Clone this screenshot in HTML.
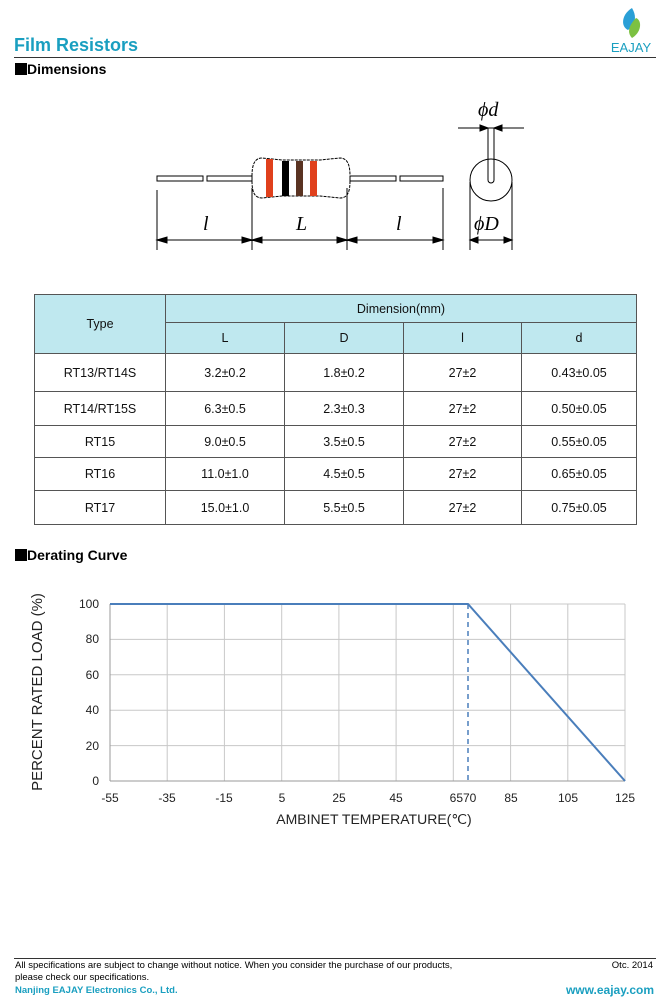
<!DOCTYPE html>
<html><head><meta charset="utf-8"><style>
body{margin:0;background:#fff;font-family:"Liberation Sans",Arial,sans-serif;}
.pg{position:relative;width:670px;height:1000px;overflow:hidden;}
.abs{position:absolute;}
table{border-collapse:collapse;position:absolute;left:34px;top:294px;width:603px;font-size:12.5px;color:#111;}
td{border:1px solid #555;text-align:center;padding:0;}
.h{background:#bfe8ef;}
</style></head><body><div class="pg">
<div class="abs" style="left:14px;top:35px;font-size:18px;font-weight:bold;color:#1a9fc0;">Film Resistors</div>
<div class="abs" style="left:14px;top:57px;width:642px;height:1px;background:#333;"></div>
<svg class="abs" style="left:608px;top:4px" width="50" height="52">
<path d="M24 4 C14 10 12 22 20 26 C26 22 30 14 24 4Z" fill="#2a9fd6"/>
<path d="M24 34 C34 28 34 16 28 14 C22 20 18 28 24 34Z" fill="#7cc142"/>
<text x="23" y="48" font-size="13" fill="#1a9fc0" text-anchor="middle" font-family="Liberation Sans">EAJAY</text>
</svg>
<div class="abs" style="left:15px;top:61px;font-size:14px;font-weight:bold;"><span style="display:inline-block;width:12px;height:12px;background:#000;vertical-align:-1px"></span>Dimensions</div>

<svg class="abs" style="left:0;top:90px" width="670" height="170" fill="none" stroke="#000" stroke-width="1">
<rect x="157" y="86" width="46" height="5"/><rect x="207" y="86" width="45" height="5"/>
<rect x="350" y="86" width="46" height="5"/><rect x="400" y="86" width="43" height="5"/>
<path d="M252 86 C252 76 254 68 262 68 L282 70 L320 70 L340 68 C348 68 350 76 350 86 M252 91 C252 101 254 108 262 108 L282 106 L320 106 L340 108 C348 108 350 101 350 91" stroke-dasharray="3,1"/>
<rect x="266" y="69" width="7" height="38" fill="#e0401c" stroke="none"/>
<rect x="282" y="71" width="7" height="35" fill="#000" stroke="none"/>
<rect x="296" y="71" width="7" height="35" fill="#5a3322" stroke="none"/>
<rect x="310" y="71" width="7" height="35" fill="#e0401c" stroke="none"/>
<path d="M157 100V160M252 98V160M347 98V160M443 98V160"/>
<path d="M157 150H443"/>
<path d="M157 150l10 -3v6zM252 150l-10 -3v6zM252 150l10 -3v6zM347 150l-10 -3v6zM347 150l10 -3v6zM443 150l-10 -3v6z" fill="#000"/>
<text x="203" y="140" font-size="20" font-style="italic" fill="#000" stroke="none" font-family="Liberation Serif">l</text>
<text x="296" y="140" font-size="20" font-style="italic" fill="#000" stroke="none" font-family="Liberation Serif">L</text>
<text x="396" y="140" font-size="20" font-style="italic" fill="#000" stroke="none" font-family="Liberation Serif">l</text>
<circle cx="491" cy="90" r="21"/>
<path d="M488 38V90a3 3 0 0 0 6 0V38"/>
<path d="M458 38H524M470 38l18 0M488 38l-8-3v6zM494 38l8-3v6z" fill="#000"/>
<path d="M470 92V160M512 92V160M470 150H512M470 150l8-3v6zM512 150l-8-3v6z" fill="#000"/>
<text x="478" y="26" font-size="20" font-style="italic" fill="#000" stroke="none" font-family="Liberation Serif">ϕd</text>
<text x="474" y="140" font-size="20" font-style="italic" fill="#000" stroke="none" font-family="Liberation Serif">ϕD</text>
</svg>

<table>
<tr style="height:28px"><td class="h" rowspan="2" style="width:130px">Type</td><td class="h" colspan="4">Dimension(mm)</td></tr>
<tr style="height:31px" class="h"><td class="h" style="width:118px">L</td><td class="h" style="width:118px">D</td><td class="h" style="width:117px">l</td><td class="h">d</td></tr>
<tr style="height:38px"><td>RT13/RT14S</td><td>3.2±0.2</td><td>1.8±0.2</td><td>27±2</td><td>0.43±0.05</td></tr>
<tr style="height:34px"><td>RT14/RT15S</td><td>6.3±0.5</td><td>2.3±0.3</td><td>27±2</td><td>0.50±0.05</td></tr>
<tr style="height:32px"><td>RT15</td><td>9.0±0.5</td><td>3.5±0.5</td><td>27±2</td><td>0.55±0.05</td></tr>
<tr style="height:33px"><td>RT16</td><td>11.0±1.0</td><td>4.5±0.5</td><td>27±2</td><td>0.65±0.05</td></tr>
<tr style="height:34px"><td>RT17</td><td>15.0±1.0</td><td>5.5±0.5</td><td>27±2</td><td>0.75±0.05</td></tr>
</table>

<div class="abs" style="left:15px;top:547px;font-size:14px;font-weight:bold;"><span style="display:inline-block;width:12px;height:12px;background:#000;vertical-align:-1px"></span>Derating Curve</div>

<svg class="abs" style="left:0;top:580px" width="670" height="260" font-family="Liberation Sans" font-size="12" fill="#222">
<g stroke="#c8c8c8" stroke-width="1">
<path d="M110 24H625M110 59.4H625M110 94.8H625M110 130.2H625M110 165.6H625"/>
<path d="M167.2 24V201M224.4 24V201M281.7 24V201M338.9 24V201M396.1 24V201M453.3 24V201M510.6 24V201M567.8 24V201M625 24V201"/>
</g>
<path d="M110 201H625M110 24V201" stroke="#999"/>
<path d="M110 24H468L625 201" stroke="#4a7ebb" stroke-width="2" fill="none"/>
<path d="M468 24V201" stroke="#4a7ebb" stroke-width="1.5" stroke-dasharray="5,4"/>
<g text-anchor="end"><text x="99" y="28">100</text><text x="99" y="63">80</text><text x="99" y="99">60</text><text x="99" y="134">40</text><text x="99" y="170">20</text><text x="99" y="205">0</text></g>
<g text-anchor="middle"><text x="110" y="222">-55</text><text x="167" y="222">-35</text><text x="224" y="222">-15</text><text x="282" y="222">5</text><text x="339" y="222">25</text><text x="396" y="222">45</text><text x="463" y="222">6570</text><text x="511" y="222">85</text><text x="568" y="222">105</text><text x="625" y="222">125</text></g>
<text x="374" y="244" font-size="14" text-anchor="middle">AMBINET TEMPERATURE(℃)</text>
<text transform="translate(42,112) rotate(-90)" font-size="15" text-anchor="middle">PERCENT RATED LOAD (%)</text>
</svg>

<div class="abs" style="left:14px;top:958px;width:642px;height:1px;background:#333;"></div>
<div class="abs" style="left:15px;top:960px;font-size:9.5px;line-height:12px;">All specifications are subject to change without notice. When you consider the purchase of our products,<br>please check our specifications.</div>
<div class="abs" style="left:15px;top:985px;font-size:9.5px;font-weight:bold;color:#1a9fc0;">Nanjing EAJAY Electronics Co., Ltd.</div>
<div class="abs" style="right:17px;top:960px;font-size:9.5px;">Otc. 2014</div>
<div class="abs" style="right:16px;top:983px;font-size:12px;font-weight:bold;color:#1a9fc0;">www.eajay.com</div>
</div></body></html>
